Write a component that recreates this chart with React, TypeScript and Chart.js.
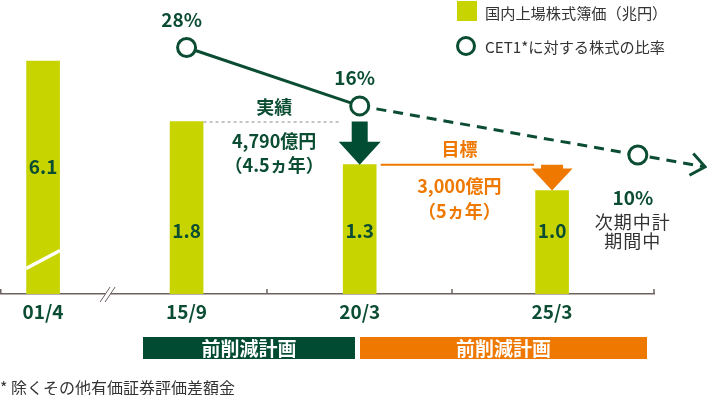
import React, { useEffect, useRef } from 'react';
import { Chart, registerables } from 'chart.js';

Chart.register(...registerables);

// ---- data ----
const periods = ['01/4', '15/9', '20/3', '25/3'];
// position of each period on the (broken) time axis, in years
const periodPos = [1.12, 4.85, 9.35, 14.35];
const bookValue = [6.1, 1.8, 1.3, 1.0]; // 国内上場株式簿価（兆円）
const barShown = [2.5, 1.8, 1.3, 1.0]; // 01/4 bar is cut by the break
const ratioPos = [4.85, 9.35, 16.58];
const ratioValues = [28, 16, 10]; // CET1*に対する株式の比率（%）
const ratioLabels = ['28%', '16%', '10%'];
const periodEdges = [0, 6.94, 11.75, 17];
const axisBreakPos = 2.81;
const arrowEndPos = 18.33;

const GREEN = '#0b4d33';
const BAR = '#c8d400';
const ORANGE = '#ee7800';
const AXIS = '#6d625f';
const TEXT = '#333333';
const FONT = '"Noto Sans CJK JP", "Noto Sans", sans-serif';

const extrasPlugin = {
  id: 'extras',
  afterDatasetsDraw(chart: any) {
    const ctx = chart.ctx as CanvasRenderingContext2D;
    const x = chart.scales.x;
    const y = chart.scales.y;
    const y2 = chart.scales.y2;
    const area = chart.chartArea;
    ctx.save();

    // axis tick marks (upwards) at period edges
    ctx.strokeStyle = AXIS;
    ctx.lineWidth = 1.5;
    periodEdges.forEach((e) => {
      const px = Math.max(x.getPixelForValue(e), area.left + 0.75);
      ctx.beginPath();
      ctx.moveTo(px, area.bottom);
      ctx.lineTo(px, area.bottom - 5);
      ctx.stroke();
    });
    // axis break "//"
    const bx = x.getPixelForValue(axisBreakPos);
    const by = area.bottom;
    ctx.fillStyle = '#ffffff';
    ctx.beginPath();
    ctx.moveTo(bx - 8, by + 8);
    ctx.lineTo(bx + 2, by - 7);
    ctx.lineTo(bx + 7, by - 7);
    ctx.lineTo(bx - 3, by + 8);
    ctx.closePath();
    ctx.fill();
    ctx.lineWidth = 1;
    ctx.beginPath();
    ctx.moveTo(bx - 8, by + 8);
    ctx.lineTo(bx + 2, by - 7);
    ctx.moveTo(bx - 3, by + 8);
    ctx.lineTo(bx + 7, by - 7);
    ctx.stroke();

    // white break across the first bar
    const b0 = x.getPixelForValue(periodPos[0]);
    const yb = y.getPixelForValue(0.2);
    ctx.strokeStyle = '#ffffff';
    ctx.lineWidth = 3.5;
    ctx.beginPath();
    ctx.moveTo(b0 - 17, yb + 9);
    ctx.lineTo(b0 + 17, yb - 9);
    ctx.stroke();

    // bar value labels
    ctx.fillStyle = GREEN;
    ctx.font = `bold 19px ${FONT}`;
    ctx.textAlign = 'center';
    ctx.textBaseline = 'middle';
    bookValue.forEach((v, i) => {
      const px = x.getPixelForValue(periodPos[i]);
      const py = i === 0 ? y.getPixelForValue(1.27) : y.getPixelForValue(0.53);
      ctx.fillText(v.toFixed(1), px, py);
    });

    // ratio labels
    const pts = ratioValues.map((v, i) => ({
      x: x.getPixelForValue(ratioPos[i]),
      y: y2.getPixelForValue(v),
    }));
    ctx.font = `bold 19px ${FONT}`;
    ctx.fillStyle = GREEN;
    pts.forEach((p, i) => {
      if (i < 2) ctx.fillText(ratioLabels[i], p.x - 5, p.y - 28);
      else ctx.fillText(ratioLabels[i], p.x - 5, p.y + 43);
    });
    const last = pts[pts.length - 1];
    ctx.fillStyle = TEXT;
    ctx.font = `18px ${FONT}`;
    (ctx as any).letterSpacing = '1px';
    ctx.fillText('次期中計', last.x - 5, last.y + 67);
    ctx.fillText('期間中', last.x - 5, last.y + 86);
    (ctx as any).letterSpacing = '0px';

    // dashed extension with arrow head
    const prev = pts[pts.length - 2];
    const dx = last.x - prev.x;
    const dy = last.y - prev.y;
    const len = Math.hypot(dx, dy);
    const ux = dx / len;
    const uy = dy / len;
    const tipX = x.getPixelForValue(arrowEndPos);
    const tipY = last.y + (uy / ux) * (tipX - last.x);
    ctx.strokeStyle = GREEN;
    ctx.lineWidth = 3;
    ctx.setLineDash([10, 7]);
    ctx.beginPath();
    ctx.moveTo(last.x + ux * 12, last.y + uy * 12);
    ctx.lineTo(tipX - ux * 2, tipY - uy * 2);
    ctx.stroke();
    ctx.setLineDash([]);
    ctx.lineJoin = 'miter';
    ctx.beginPath();
    ctx.moveTo(tipX - ux * 14 + uy * 11, tipY - uy * 14 - ux * 11);
    ctx.lineTo(tipX, tipY);
    ctx.lineTo(tipX - ux * 14 - uy * 11, tipY - uy * 14 + ux * 11);
    ctx.stroke();

    // 実績: dotted line + dark green arrow
    const p1 = x.getPixelForValue(periodPos[1]);
    const p2 = x.getPixelForValue(periodPos[2]);
    const p3 = x.getPixelForValue(periodPos[3]);
    const top1 = y.getPixelForValue(bookValue[1]);
    const top2 = y.getPixelForValue(bookValue[2]);
    const top3 = y.getPixelForValue(bookValue[3]);
    ctx.strokeStyle = '#8a8a8a';
    ctx.lineWidth = 1;
    ctx.setLineDash([3, 3]);
    ctx.beginPath();
    ctx.moveTo(p1 + 17, top1 + 0.5);
    ctx.lineTo(p2 - 21, top1 + 0.5);
    ctx.stroke();
    ctx.setLineDash([]);

    ctx.fillStyle = '#004d33';
    ctx.beginPath();
    ctx.moveTo(p2 - 8, top1);
    ctx.lineTo(p2 + 8, top1);
    ctx.lineTo(p2 + 8, top2 - 23);
    ctx.lineTo(p2 + 21, top2 - 23);
    ctx.lineTo(p2, top2);
    ctx.lineTo(p2 - 21, top2 - 23);
    ctx.lineTo(p2 - 8, top2 - 23);
    ctx.closePath();
    ctx.fill();

    const mid12 = (p1 + p2) / 2 + 1;
    ctx.fillStyle = GREEN;
    ctx.font = `bold 18px ${FONT}`;
    ctx.fillText('実績', mid12, top1 - 14);
    ctx.fillText('4,790億円', mid12, top1 + 19.5);
    ctx.fillText('（4.5ヵ年）', mid12, top1 + 44);

    // 目標: orange line + arrow
    ctx.strokeStyle = ORANGE;
    ctx.lineWidth = 2;
    ctx.beginPath();
    ctx.moveTo(p2 + 21, top2);
    ctx.lineTo(p3 - 18, top2);
    ctx.stroke();
    ctx.fillStyle = ORANGE;
    ctx.beginPath();
    ctx.moveTo(p3 - 11, top2);
    ctx.lineTo(p3 + 11, top2);
    ctx.lineTo(p3 + 11, top3 - 22);
    ctx.lineTo(p3 + 20.5, top3 - 22);
    ctx.lineTo(p3, top3);
    ctx.lineTo(p3 - 20.5, top3 - 22);
    ctx.lineTo(p3 - 11, top3 - 22);
    ctx.closePath();
    ctx.fill();

    const mid23 = (p2 + 21 + p3 - 18) / 2 + 2;
    ctx.font = `bold 18px ${FONT}`;
    ctx.fillText('目標', mid23, top2 - 15);
    ctx.fillText('3,000億円', mid23, top2 + 22);
    ctx.fillText('（5ヵ年）', mid23, top2 + 47);

    ctx.restore();
  },
};

export default function App() {
  const canvasRef = useRef<HTMLCanvasElement | null>(null);

  useEffect(() => {
    const canvas = canvasRef.current;
    if (!canvas) return;
    const chart = new Chart(canvas, {
      type: 'bar',
      data: {
        datasets: [
          {
            type: 'line',
            label: 'CET1*に対する株式の比率',
            data: ratioPos.map((p, i) => ({ x: p, y: ratioValues[i] })),
            xAxisID: 'x',
            yAxisID: 'y2',
            borderColor: GREEN,
            borderWidth: 3,
            pointRadius: 9,
            pointBorderWidth: 3,
            pointBackgroundColor: '#ffffff',
            pointBorderColor: GREEN,
            segment: {
              borderDash: (c: any) => (c.p0DataIndex >= 1 ? [10, 7] : undefined),
            },
            order: 0,
          } as any,
          {
            type: 'bar',
            label: '国内上場株式簿価（兆円）',
            data: periodPos.map((p, i) => ({ x: p, y: barShown[i] })),
            xAxisID: 'x',
            yAxisID: 'y',
            backgroundColor: BAR,
            base: -0.2,
            barThickness: 33,
            order: 1,
          } as any,
        ],
      },
      options: {
        animation: false,
        responsive: false,
        devicePixelRatio: 1,
        layout: { autoPadding: false, padding: { left: 0, right: 53, top: 18, bottom: 0 } },
        plugins: {
          legend: { display: false },
          tooltip: { enabled: false },
        },
        scales: {
          x: {
            type: 'linear',
            min: 0,
            max: 17,
            offset: false,
            grid: { display: false, drawTicks: false, offset: false },
            border: { display: true, color: AXIS, width: 1.5 },
            afterBuildTicks: (scale: any) => {
              scale.ticks = periodPos.map((v) => ({ value: v }));
            },
            afterFit: (scale: any) => {
              scale.height = 101;
              scale.paddingLeft = 0;
              scale.paddingRight = 0;
            },
            ticks: {
              autoSkip: false,
              maxRotation: 0,
              padding: 6,
              color: GREEN,
              font: { family: FONT, size: 19, weight: 'bold' },
              callback: (value: any) => {
                const i = periodPos.indexOf(Number(value));
                return i >= 0 ? periods[i] : '';
              },
            },
          },
          y: {
            type: 'linear',
            display: false,
            min: -0.2,
            max: 3.0,
          },
          y2: {
            type: 'logarithmic',
            display: false,
            min: 2.64,
            max: 37.15,
          },
        },
      } as any,
      plugins: [extrasPlugin],
    });
    return () => chart.destroy();
  }, []);

  const legendText: React.CSSProperties = {
    position: 'absolute',
    left: 485,
    fontFamily: FONT,
    fontSize: 15.2,
    color: TEXT,
    lineHeight: '20px',
    whiteSpace: 'nowrap',
  };
  const band: React.CSSProperties = {
    position: 'absolute',
    top: 337,
    height: 22,
    color: '#ffffff',
    fontFamily: FONT,
    fontWeight: 'bold',
    fontSize: 19,
    lineHeight: '22px',
    textAlign: 'center',
    whiteSpace: 'nowrap',
  };

  return (
    <div style={{ position: 'absolute', left: 0, top: 0, width: 707, height: 395, background: '#fff', overflow: 'hidden' }}>
      <canvas ref={canvasRef} width={707} height={395} style={{ position: 'absolute', left: 0, top: 0 }} />
      <div style={{ position: 'absolute', left: 457, top: 1, width: 20, height: 20, background: BAR }} />
      <div style={{ ...legendText, top: 2 }}>国内上場株式簿価（兆円）</div>
      <div
        style={{
          position: 'absolute',
          left: 456,
          top: 36,
          width: 14,
          height: 14,
          border: `3.5px solid ${GREEN}`,
          borderRadius: '50%',
          background: '#fff',
        }}
      />
      <div style={{ ...legendText, top: 36 }}>CET1*に対する株式の比率</div>
      <div style={{ ...band, left: 143, width: 212, background: '#004b32' }}>前削減計画</div>
      <div style={{ ...band, left: 360, width: 287, background: ORANGE }}>前削減計画</div>
      <div
        style={{
          position: 'absolute',
          left: 0,
          top: 377,
          fontFamily: FONT,
          fontSize: 16,
          color: TEXT,
          lineHeight: '20px',
          whiteSpace: 'nowrap',
        }}
      >
        * 除くその他有価証券評価差額金
      </div>
    </div>
  );
}
